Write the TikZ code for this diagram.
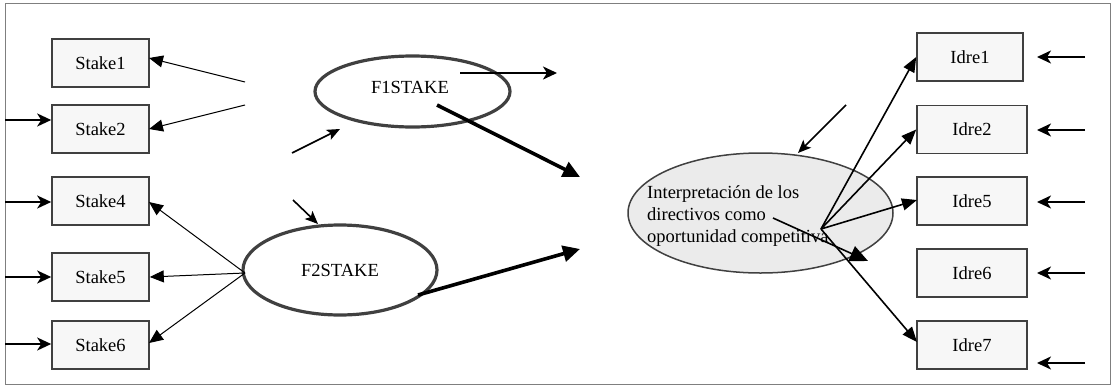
\documentclass[tikz,border=0pt]{standalone}
\usepackage{fontspec}
\setmainfont{Liberation Serif}
\usetikzlibrary{arrows.meta,shapes.geometric}
\definecolor{boxline}{HTML}{404040}
\definecolor{boxfill}{HTML}{F7F7F7}
\definecolor{ellfill}{HTML}{EBEBEB}
\definecolor{framecol}{HTML}{7F7F7F}
\begin{document}
\begin{tikzpicture}[x=1pt,y=-1pt,
  font=\fontsize{18.5}{22}\selectfont,
  varbox/.style={draw=boxline,fill=boxfill,line width=1.6pt,rectangle,inner sep=0pt,minimum width=97pt,minimum height=48pt},
  idrebox/.style={draw=boxline,fill=boxfill,line width=1.6pt,rectangle,inner sep=0pt,minimum width=110pt,minimum height=48pt},
  factor/.style={draw=boxline,line width=3.2pt,ellipse,inner sep=0pt},
  inarrow/.style={line width=2.2pt,-{Stealth[length=14pt,width=13pt,inset=4pt]}},
  thinarrow/.style={line width=1pt,-{Triangle[length=14pt,width=12pt]}},
  midarrow/.style={line width=1.6pt,-{Triangle[length=15pt,width=12pt]}},
  smallin/.style={line width=1.6pt,-{Stealth[length=13pt,width=11pt,inset=3pt]}},
  thickarrow/.style={line width=3.6pt,-{Triangle[length=17pt,width=16pt]}}]
\useasboundingbox (0,0) rectangle (1114,386);
\node[draw=framecol,line width=1pt,rectangle,minimum width=1105pt,minimum height=381pt,inner sep=0pt,anchor=north west] (frame) at (4.5,3) {};

% left boxes
\node[varbox] (s1) at (100.5,63) {Stake1};
\node[varbox] (s2) at (100.5,129) {Stake2};
\node[varbox] (s4) at (100.5,201) {Stake4};
\node[varbox] (s5) at (100.5,277) {Stake5};
\node[varbox] (s6) at (100.5,345) {Stake6};

% right boxes
\node[idrebox,minimum width=106pt] (i1) at (970,57) {Idre1};
\node[idrebox] (i2) at (972,129.5) {Idre2};
\node[idrebox] (i5) at (972,201) {Idre5};
\node[idrebox] (i6) at (972,273) {Idre6};
\node[idrebox] (i7) at (972,345) {Idre7};

% factors
\node[factor,minimum width=195pt,minimum height=71pt] (f1) at (412.5,91.5) {};
\node (f1text) at (410,87) {F1STAKE};
\node[factor,minimum width=194pt,minimum height=90pt] (f2) at (340,270) {F2STAKE};
\node[draw=boxline,fill=ellfill,line width=1.5pt,ellipse,inner sep=0pt,minimum width=265pt,minimum height=120pt] (interp) at (760.5,213) {};
\node[align=left,inner sep=0pt,anchor=north west] (interptext) at (647,185) {Interpretación de los\\directivos como\\oportunidad competitiva};

% left input arrows
\coordinate (in2) at (5,120);
\coordinate (in4) at (5,202);
\coordinate (in5) at (5,277);
\coordinate (in6) at (5,344);
\draw[inarrow] (in2) -- (in2 -| s2.west);
\draw[inarrow] (in4) -- (in4 -| s4.west);
\draw[inarrow] (in5) -- (in5 -| s5.west);
\draw[inarrow] (in6) -- (in6 -| s6.west);

% loadings F1 (free ends)
\coordinate (l1) at (245,82);
\coordinate (l2) at (245,105);
\coordinate (t1) at (149,58);
\coordinate (t2) at (149,129);
\draw[thinarrow] (l1) -- (t1);
\draw[thinarrow] (l2) -- (t2);

% loadings F2
\coordinate (f2w) at (245,273);
\draw[thinarrow] (f2w) -- (149,202);
\draw[thinarrow] (f2w) -- (s5.east);
\draw[thinarrow] (f2w) -- (149,343);

% disturbances into factors
\coordinate (d1a) at (292,153);
\coordinate (d1b) at (340,129);
\draw[smallin] (d1a) -- (d1b);
\coordinate (d2a) at (293,200);
\coordinate (d2b) at (318,224);
\draw[smallin] (d2a) -- (d2b);
\coordinate (d3a) at (846,105);
\coordinate (d3b) at (798,153);
\draw[smallin] (d3a) -- (d3b);

% F1 right arrow
\coordinate (r1a) at (460,73);
\coordinate (r1b) at (557,73);
\draw[inarrow] (r1a) -- (r1b);

% thick structural arrows
\coordinate (p1a) at (437,105);
\coordinate (p1b) at (580,177);
\draw[thickarrow] (p1a) -- (p1b);
\coordinate (p2a) at (418,295);
\coordinate (p2b) at (580,249);
\draw[thickarrow] (p2a) -- (p2b);

% hub arrows to Idre
\coordinate (hub) at (821,229);
\draw[midarrow] (hub) -- (i1.west);
\draw[midarrow] (hub) -- (i2.west);
\draw[midarrow] (hub) -- (917,200);
\draw[midarrow] (hub) -- (917,342);

% arrow from text
\coordinate (ta) at (773,218);
\coordinate (tb) at (868,261);
\draw[line width=1.6pt,-{Triangle[length=18pt,width=16pt]}] (ta) -- (tb);

% right inputs
\coordinate (e1) at (1085,57);
\coordinate (e2) at (1085,130);
\coordinate (e5) at (1085,202);
\coordinate (e6) at (1085,273);
\coordinate (e7) at (1085,363);
\draw[inarrow] (e1) -- (1037,57);
\draw[inarrow] (e2) -- (1037,130);
\draw[inarrow] (e5) -- (1037,202);
\draw[inarrow] (e6) -- (1037,273);
\draw[inarrow] (e7) -- (1037,363);
\end{tikzpicture}
\end{document}
